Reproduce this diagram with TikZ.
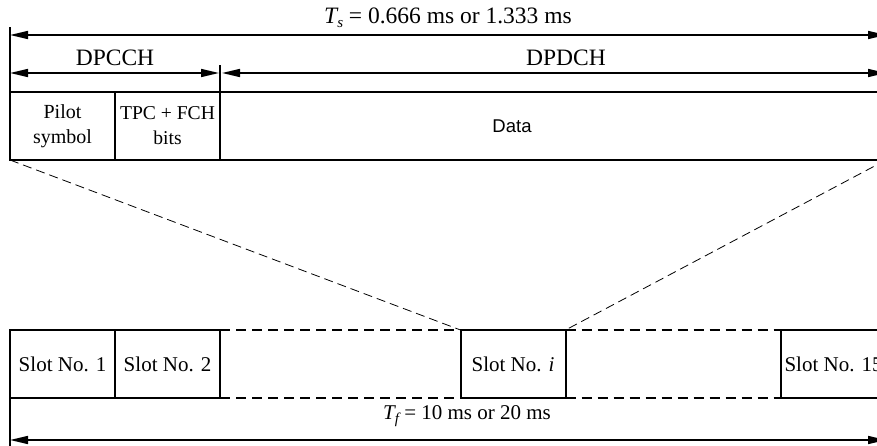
\documentclass[tikz,border=0pt]{standalone}
\usepackage{fontspec}
\setmainfont{Liberation Serif}
\newfontfamily\datafont{Liberation Sans}
\usetikzlibrary{arrows.meta, positioning, calc}

% lowered italic index, as in T_s
\newcommand{\lowidx}[1]{\raisebox{-0.4ex}{\fontsize{15}{15}\selectfont\itshape #1}}

\begin{document}
\begin{tikzpicture}[
    % Global options: pixel grid, line width, font size
    x=1pt, y=-1pt,
    line width=2pt,
    font=\fontsize{21}{25}\selectfont,
    cell/.style={draw, rectangle, minimum width=105pt, minimum height=68pt,
      inner sep=0pt, outer sep=0pt, align=center},
    span/.style={{Triangle[length=18pt,width=8pt]}-{Triangle[length=18pt,width=8pt]},
      line width=1.6pt},
    zoomline/.style={line width=0.8pt, dash pattern=on 9pt off 5pt},
    gap/.style={line width=2pt, dash pattern=on 10pt off 6pt},
    head/.style={font=\fontsize{23.5}{26}\selectfont},
  ]
    \useasboundingbox (0,0) rectangle (877,446);
    \clip (0,0) rectangle (877,446);

    % --- Slot structure (top) ---
    \node[cell, font=\fontsize{20}{25}\selectfont] (pilot) at (62.5,126) {Pilot\\symbol};
    \node[cell, font=\fontsize{19.6}{25}\selectfont, right=0pt of pilot] (tpc) {TPC + FCH\\bits};
    \node[cell, minimum width=666pt, right=0pt of tpc] (data) {};
    \node[font=\datafont\fontsize{18.5}{22}\selectfont] (datatext) at (512,126) {Data};

    % --- Extension lines and spans ---
    \draw (pilot.north west) -- ++(0,-65);
    \draw (tpc.north east) -- ++(0,-27);
    \coordinate (tsL) at (10,35);
    \coordinate (tsR) at (886,35);
    \draw[span] (tsL) -- (tsR);
    \node[head] (ts) at (448,18) {{\itshape T}\lowidx{s} = 0.666 ms or 1.333 ms};
    \coordinate (ccL) at (10,73);
    \coordinate (ccR) at (219,73);
    \coordinate (dcL) at (222,73);
    \coordinate (dcR) at (886,73);
    \draw[span] (ccL) -- (ccR);
    \draw[span] (dcL) -- (dcR);
    \node[head] (dpcch) at (115,58) {DPCCH};
    \node[head] (dpdch) at (566,58) {DPDCH};

    % --- Frame of slots (bottom) ---
    \node[cell] (slot1) at (62.5,364) {Slot No. 1};
    \node[cell, right=0pt of slot1] (slot2) {Slot No. 2};
    \node[cell] (sloti) at (513,364) {Slot No. \textit{i}};
    \node[cell] (slot15) at (833.5,364) {Slot No. 15};
    \draw[gap] (slot2.north east) -- (sloti.north west);
    \draw[gap] (slot2.south east) -- (sloti.south west);
    \draw[gap] (sloti.north east) -- (slot15.north west);
    \draw[gap] (sloti.south east) -- (slot15.south west);

    % --- Zoom from slot i to the slot structure ---
    \draw[zoomline] (pilot.south west) -- (sloti.north west);
    \draw[zoomline] (data.south east) -- (sloti.north east);

    % --- Frame span ---
    \draw (slot1.south west) -- ++(0,48);
    \coordinate (tfL) at (10,440);
    \coordinate (tfR) at (886,440);
    \draw[span] (tfL) -- (tfR);
    \node (tf) at (467,416) {{\itshape T}\lowidx{f} = 10 ms or 20 ms};
\end{tikzpicture}
\end{document}
